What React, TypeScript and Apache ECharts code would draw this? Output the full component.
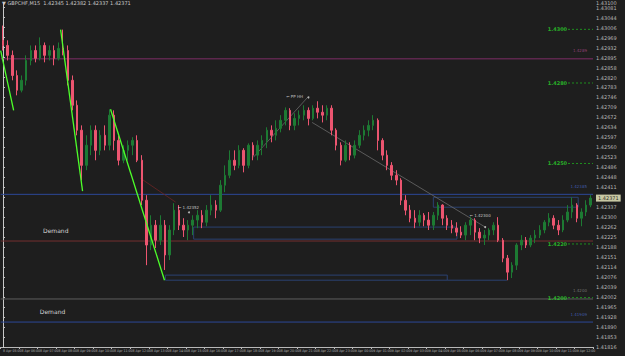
import React, { useEffect, useRef } from "react";
import * as echarts from "echarts";

// ---------- DATA ----------
const openP = [
  1.42959, 1.4294, 1.42903, 1.42828, 1.42773, 1.4281, 1.42884, 1.42921, 1.42892, 1.4294,
  1.42903, 1.42921, 1.42892, 1.42929, 1.42921, 1.4281, 1.42717, 1.42624, 1.42493, 1.42568,
  1.42624, 1.42549, 1.42605, 1.42568, 1.4268, 1.42586, 1.42512, 1.42549, 1.42568, 1.42586,
  1.42512, 1.42363, 1.42196, 1.4227, 1.42214, 1.4227, 1.42159, 1.42252, 1.42326, 1.4227,
  1.42252, 1.4227, 1.42289, 1.42307, 1.42281, 1.42326, 1.42345, 1.42326, 1.42419, 1.42456,
  1.42512, 1.42493, 1.42549, 1.42493, 1.42568, 1.42531, 1.42568, 1.42586, 1.42624, 1.42605,
  1.42631, 1.42661, 1.42698, 1.42642, 1.42668, 1.4268, 1.42698, 1.42668, 1.42706, 1.42691,
  1.4268, 1.42706, 1.42624, 1.42568, 1.42512, 1.42568, 1.42531, 1.42568, 1.42605, 1.42624,
  1.42642, 1.42661, 1.42586, 1.42531, 1.42493, 1.42456, 1.42438, 1.42363, 1.42326, 1.42296,
  1.42281, 1.42307, 1.42289, 1.4227, 1.42307, 1.42345, 1.42296, 1.4227, 1.42259, 1.42244,
  1.42233, 1.4227, 1.42289, 1.42244, 1.42222, 1.42233, 1.42252, 1.4227, 1.42214, 1.42147,
  1.42095, 1.42121, 1.42196, 1.42214, 1.42196, 1.42222, 1.42233, 1.42252, 1.42281, 1.42296,
  1.4227, 1.42252, 1.42289, 1.42319, 1.42345, 1.42296, 1.42319, 1.42345,
];
const closeP = [
  1.4294, 1.42903, 1.42828, 1.42773, 1.4281, 1.42884, 1.42921, 1.42892, 1.4294, 1.42903,
  1.42921, 1.42892, 1.42929, 1.42921, 1.4281, 1.42717, 1.42624, 1.42493, 1.42568, 1.42624,
  1.42549, 1.42605, 1.42568, 1.4268, 1.42586, 1.42512, 1.42549, 1.42568, 1.42586, 1.42512,
  1.42363, 1.42196, 1.4227, 1.42214, 1.4227, 1.42159, 1.42252, 1.42326, 1.4227, 1.42252,
  1.4227, 1.42289, 1.42307, 1.42281, 1.42326, 1.42345, 1.42326, 1.42419, 1.42456, 1.42512,
  1.42493, 1.42549, 1.42493, 1.42568, 1.42531, 1.42568, 1.42586, 1.42624, 1.42605, 1.42631,
  1.42661, 1.42698, 1.42642, 1.42668, 1.4268, 1.42698, 1.42668, 1.42706, 1.42691, 1.4268,
  1.42706, 1.42624, 1.42568, 1.42512, 1.42568, 1.42531, 1.42568, 1.42605, 1.42624, 1.42642,
  1.42661, 1.42586, 1.42531, 1.42493, 1.42456, 1.42438, 1.42363, 1.42326, 1.42296, 1.42281,
  1.42307, 1.42289, 1.4227, 1.42307, 1.42345, 1.42296, 1.4227, 1.42259, 1.42244, 1.42233,
  1.4227, 1.42289, 1.42244, 1.42222, 1.42233, 1.42252, 1.4227, 1.42214, 1.42147, 1.42095,
  1.42121, 1.42196, 1.42214, 1.42196, 1.42222, 1.42233, 1.42252, 1.42281, 1.42296, 1.4227,
  1.42252, 1.42289, 1.42319, 1.42345, 1.42296, 1.42319, 1.42345, 1.42371,
];
const lowP = [
  1.42921, 1.42884, 1.4281, 1.42754, 1.42765, 1.42791, 1.42866, 1.42877, 1.42884, 1.42877,
  1.42884, 1.42866, 1.42884, 1.42903, 1.42791, 1.42698, 1.42605, 1.42438, 1.42475, 1.42531,
  1.42512, 1.42531, 1.42549, 1.42549, 1.42549, 1.42493, 1.42501, 1.42512, 1.42531, 1.42505,
  1.42345, 1.42121, 1.42177, 1.42185, 1.42196, 1.42103, 1.4214, 1.42233, 1.42252, 1.42226,
  1.42214, 1.42233, 1.42259, 1.42259, 1.42266, 1.42307, 1.42296, 1.42319, 1.42393, 1.42445,
  1.42475, 1.42482, 1.42467, 1.42482, 1.42512, 1.42512, 1.42531, 1.42557, 1.42579, 1.42586,
  1.42616, 1.42642, 1.42624, 1.42624, 1.42642, 1.42661, 1.42642, 1.42661, 1.42668, 1.42653,
  1.42661, 1.42605, 1.42549, 1.42493, 1.42505, 1.42512, 1.42519, 1.42557, 1.42586, 1.42601,
  1.42624, 1.42549, 1.42512, 1.42475, 1.42438, 1.42419, 1.42345, 1.42307, 1.42281, 1.42259,
  1.42266, 1.42266, 1.42252, 1.42252, 1.42289, 1.4227, 1.42252, 1.4224, 1.42229, 1.42222,
  1.42214, 1.42233, 1.42214, 1.42203, 1.42196, 1.42214, 1.42233, 1.42207, 1.42132, 1.42065,
  1.42073, 1.42103, 1.42177, 1.42185, 1.42188, 1.42203, 1.42222, 1.4224, 1.42266, 1.42255,
  1.42233, 1.42244, 1.42281, 1.42296, 1.42281, 1.42266, 1.42304, 1.42337,
];
const highP = [
  1.43014, 1.42959, 1.42921, 1.42847, 1.42828, 1.42903, 1.4294, 1.4294, 1.4297, 1.42951,
  1.4294, 1.4294, 1.42951, 1.42999, 1.4294, 1.42828, 1.42735, 1.42642, 1.42605, 1.42642,
  1.42642, 1.42624, 1.42642, 1.42702, 1.42698, 1.42605, 1.42568, 1.42586, 1.42598, 1.42605,
  1.42531, 1.42382, 1.42307, 1.42289, 1.42307, 1.42289, 1.4227, 1.42352, 1.42345, 1.42296,
  1.42289, 1.42307, 1.42326, 1.42326, 1.42345, 1.42382, 1.42363, 1.42438, 1.42493, 1.42549,
  1.42549, 1.42568, 1.42557, 1.42575, 1.42579, 1.42586, 1.42605, 1.42635, 1.42642, 1.42661,
  1.4268, 1.42709, 1.42706, 1.42687, 1.42698, 1.42717, 1.42709, 1.42717, 1.42732, 1.42717,
  1.42717, 1.42717, 1.42631, 1.42579, 1.42586, 1.42579, 1.42586, 1.42624, 1.42642, 1.42661,
  1.4268, 1.42668, 1.42594, 1.42549, 1.42505, 1.42475, 1.42445, 1.42382, 1.42345, 1.42326,
  1.42326, 1.42315, 1.42319, 1.42319, 1.42356, 1.42348, 1.42307, 1.42289, 1.42281, 1.42266,
  1.42281, 1.423, 1.42296, 1.42259, 1.42252, 1.42259, 1.42281, 1.423, 1.42222, 1.42159,
  1.42132, 1.42203, 1.42233, 1.42226, 1.42233, 1.42252, 1.4227, 1.42289, 1.42315, 1.42307,
  1.42289, 1.42307, 1.42345, 1.42374, 1.42352, 1.42333, 1.42363, 1.42382,
];

// time labels (M15 bars)
const startHour = 5;
const categories: string[] = openP.map((_, i) => {
  const totalMin = startHour * 60 + i * 15;
  const day = 8 + Math.floor(totalMin / 1440);
  const m = totalMin % 1440;
  const hh = String(Math.floor(m / 60)).padStart(2, "0");
  const mm = String(m % 60).padStart(2, "0");
  return `${day} Apr ${hh}:${mm}`;
});

// horizontal full-width levels
const levelPrices = [1.4289, 1.42385, 1.42211, 1.41995, 1.41909];
const levelTexts = ["1.4289", "1.42385", "", "1.4200", "1.41909"];
// round-number levels (green)
const roundLevels = [1.43, 1.428, 1.425, 1.422, 1.42];
// trend lines: [x0, p0, x1, p1] in bar-index units
const greenTrends = [
  [-0.5, 1.42921, 2.3, 1.42698],
  [12.45, 1.42999, 17.2, 1.42397],
  [23.24, 1.42702, 34.9, 1.42065],
];
const grayTrends = [
  [54.1, 1.42523, 65.8, 1.42746],
  [66.8, 1.42653, 104.2, 1.42263],
];
const redTrends = [[29.7, 1.42445, 37.3, 1.42356]];
// zones: [x0, x1, pLow, pHigh]
const zones = [
  [93.0, 124.3, 1.42337, 1.42374],
  [41.2, 98.1, 1.42218, 1.42263],
  [35.1, 96.0, 1.42065, 1.42084],
];
const zoneExtension = [96.0, 108.9, 1.42065];
const demandLabels = [
  { x: 11.4, p: 1.42252, text: "Demand" },
  { x: 10.7, p: 1.4195, text: "Demand" },
];
const notes = [
  { x: 63.0, p: 1.4275, text: "\u2190 PP HH" },
  { x: 40.1, p: 1.42337, text: "\u2190 1.42352" },
  { x: 103.1, p: 1.42307, text: "\u2190 1.42300" },
];
const noteDots = [
  [66.0, 1.42746],
  [40.2, 1.42318],
  [104.2, 1.42263],
];
const lastPrice = 1.42371;

export default function App() {
  const ref = useRef<HTMLDivElement>(null);
  useEffect(() => {
    document.body.style.margin = "0";
    document.body.style.background = "#1e1e1e";
    if (!ref.current) return;
    const chart = echarts.init(ref.current, undefined, { renderer: "svg" });
    const font = "DejaVu Sans";
    const narrow = "Liberation Sans Narrow, DejaVu Sans Condensed, Liberation Sans";
    const X0 = -0.5;
    const X1 = openP.length - 0.5;
    const seg = (pts: number[][], color: string, width: number, type: any = "solid", z = 3) => ({
      type: "line",
      xAxisIndex: 1,
      yAxisIndex: 0,
      data: pts,
      symbol: "none",
      silent: true,
      clip: false,
      z,
      lineStyle: { color, width, type },
    });
    const levelColors = ["#7e2d66", "#2c4898", "#743030", "#5e5e5e", "#2c4898"];
    const levelTextColors = ["#b04a90", "#4a6ac8", "#a04848", "#8a8a8a", "#4a6ac8"];

    const series: any[] = [];
    levelPrices.forEach((p, i) => series.push(seg([[X0, p], [X1, p]], levelColors[i], 1, "solid", 2)));
    series.push({
      type: "candlestick",
      xAxisIndex: 0,
      yAxisIndex: 0,
      data: openP.map((o, i) => [o, closeP[i], lowP[i], highP[i]]),
      barWidth: 2,
      z: 5,
      itemStyle: {
        color: "#1d7a33",
        color0: "#ec5570",
        borderColor: "#1d7a33",
        borderColor0: "#ec5570",
        borderWidth: 1,
      },
    });
    greenTrends.forEach((t) => series.push(seg([[t[0], t[1]], [t[2], t[3]]], "#4dff2a", 1.3, "solid", 6)));
    grayTrends.forEach((t) => series.push(seg([[t[0], t[1]], [t[2], t[3]]], "#6a6a6a", 0.8, "solid", 4)));
    redTrends.forEach((t) => series.push(seg([[t[0], t[1]], [t[2], t[3]]], "#6b2525", 0.8, "solid", 4)));
    zones.forEach((zn) =>
      series.push(
        seg(
          [
            [zn[0], zn[2]],
            [zn[1], zn[2]],
            [zn[1], zn[3]],
            [zn[0], zn[3]],
            [zn[0], zn[2]],
          ],
          "#2a4272",
          1,
          "solid",
          2
        )
      )
    );
    series.push(seg([[zoneExtension[0], zoneExtension[2]], [zoneExtension[1], zoneExtension[2]]], "#2a4272", 1, "solid", 2));
    roundLevels.forEach((p) => series.push(seg([[122.1, p], [X1, p]], "#1f8f1f", 1, [2, 2], 3)));
    // level labels (right inside end, above line)
    series.push({
      type: "scatter",
      xAxisIndex: 1,
      yAxisIndex: 0,
      symbolSize: 0,
      silent: true,
      clip: false,
      z: 8,
      data: levelPrices
        .map((p, i) => ({
          value: [X1, p],
          name: levelTexts[i],
          label: { color: levelTextColors[i] },
        }))
        .filter((d) => d.name !== ""),
      label: {
        show: true,
        position: "insideBottomRight",
        offset: [-1, -1],
        formatter: "{b}",
        fontSize: 4,
        fontFamily: font,
        align: "right",
        verticalAlign: "bottom",
      },
    });
    series.push({
      type: "scatter",
      xAxisIndex: 1,
      yAxisIndex: 0,
      symbolSize: 0,
      silent: true,
      z: 8,
      data: roundLevels.map((p) => ({ value: [121.9, p], name: p.toFixed(4) })),
      label: {
        show: true,
        position: "left",
        distance: 0,
        formatter: "{b}",
        color: "#2bd62b",
        fontSize: 5,
        fontWeight: "bold",
        fontFamily: font,
      },
    });
    series.push({
      type: "scatter",
      xAxisIndex: 1,
      yAxisIndex: 0,
      symbolSize: 0,
      silent: true,
      z: 8,
      data: demandLabels.map((d) => ({ value: [d.x, d.p], name: d.text })),
      label: { show: true, position: "inside", formatter: "{b}", color: "#ffffff", fontSize: 6, fontFamily: font },
    });
    series.push({
      type: "scatter",
      xAxisIndex: 1,
      yAxisIndex: 0,
      symbolSize: 0,
      silent: true,
      z: 8,
      data: notes.map((d) => ({ value: [d.x, d.p], name: d.text })),
      label: { show: true, position: "inside", formatter: "{b}", color: "#e8e8e8", fontSize: 4, fontFamily: font },
    });
    series.push({
      type: "scatter",
      xAxisIndex: 1,
      yAxisIndex: 0,
      symbolSize: 2,
      silent: true,
      z: 8,
      itemStyle: { color: "#d8d8d8" },
      data: noteDots,
    });
    // current price tag on the axis
    series.push({
      type: "scatter",
      xAxisIndex: 1,
      yAxisIndex: 0,
      symbolSize: 0,
      silent: true,
      clip: false,
      z: 9,
      data: [{ value: [X1, lastPrice], name: lastPrice.toFixed(5) }],
      label: {
        show: true,
        position: "right",
        distance: 3,
        formatter: "{b}",
        backgroundColor: "#f2f2c4",
        color: "#000",
        fontSize: 5,
        fontFamily: font,
        padding: [1, 2],
      },
    });

    chart.setOption({
      animation: false,
      backgroundColor: "#1e1e1e",
      title: {
        text: "\u25BC GBPCHF,M15  1.42345 1.42382 1.42337 1.42371",
        left: 2,
        top: 0,
        padding: 0,
        textStyle: { color: "#c8c8c8", fontSize: 5, fontWeight: "normal", fontFamily: font },
      },
      grid: { left: 0, right: 32, top: 2, bottom: 9, containLabel: false },
      xAxis: [
        {
          type: "category",
          data: categories,
          boundaryGap: true,
          axisLine: { show: true, lineStyle: { color: "#b8b8b8", width: 1 } },
          axisTick: { show: true, interval: 3, length: 2, lineStyle: { color: "#b8b8b8" } },
          axisLabel: {
            interval: 3,
            color: "#b0b0b0",
            fontSize: 3.5,
            fontFamily: narrow,
            margin: 2,
            align: "left",
          },
          splitLine: { show: false },
        },
        { type: "value", min: X0, max: X1, show: false },
      ],
      yAxis: [
        {
          type: "value",
          position: "right",
          min: 1.41816,
          max: 1.431,
          interval: 0.000372,
          axisLine: { show: true, lineStyle: { color: "#c8c8c8", width: 1 } },
          axisTick: { show: true, length: 2, lineStyle: { color: "#c8c8c8" } },
          axisLabel: {
            color: "#b8b8b8",
            fontSize: 5,
            fontFamily: font,
            margin: 3,
            formatter: (v: number) => (Math.abs(v - lastPrice) < 0.00025 ? "" : v.toFixed(5)),
          },
          splitLine: { show: false },
        },
      ],
      series,
    });
    return () => chart.dispose();
  }, []);
  return <div ref={ref} style={{ width: 625, height: 356, background: "#1e1e1e" }} />;
}
